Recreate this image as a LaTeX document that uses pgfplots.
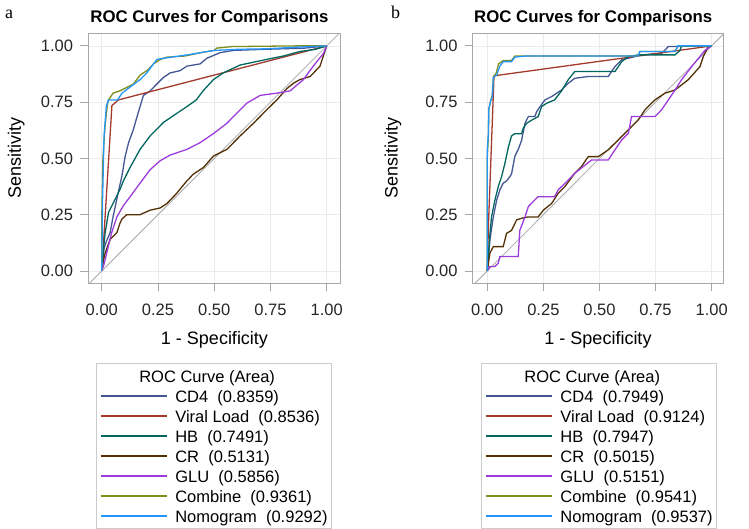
\documentclass[border=0pt]{standalone}
\usepackage{pgfplots}
\pgfplotsset{compat=1.18}
\usepackage{fontspec}
\setmainfont{Liberation Sans}
\newfontfamily\seriffont{Liberation Serif}
\definecolor{cCD}{HTML}{445694}
\definecolor{cVL}{HTML}{A23A2E}
\definecolor{cHB}{HTML}{01665E}
\definecolor{cCR}{HTML}{543005}
\definecolor{cGLU}{HTML}{9D3CDB}
\definecolor{cCOM}{HTML}{7F8E1F}
\definecolor{cNOM}{HTML}{2597FA}
\definecolor{frameg}{HTML}{A8A8A8}
\definecolor{gridg}{HTML}{EBEBEB}
\pgfplotsset{
  lg/.style={legend image code/.code={\draw[draw=#1, line width=1.3pt] (0pt,0pt) -- (66pt,0pt);}},
  rocax/.style={
    scale only axis, height=250pt,
    ymin=-0.055, ymax=1.056,
    xtick={0,0.25,0.5,0.75,1}, ytick={0,0.25,0.5,0.75,1},
    xticklabels={0.00,0.25,0.50,0.75,1.00},
    yticklabels={0.00,0.25,0.50,0.75,1.00},
    tick align=outside, xtick pos=bottom, ytick pos=left,
    major tick length=8pt,
    tick style={draw=frameg, line width=0.8pt},
    axis line style={draw=frameg, line width=1pt},
    grid=major, major grid style={draw=gridg, line width=0.6pt},
    ticklabel style={font=\fontsize{16.5}{18}\selectfont, text=black!85},
    xticklabel style={anchor=north, inner sep=0pt},
    yticklabel style={anchor=east, inner sep=0pt},
    xticklabel shift=12pt, yticklabel shift=7pt,
    title style={font=\bfseries\fontsize{16.8}{18}\selectfont, anchor=base},
    xlabel={1 - Specificity}, ylabel={Sensitivity},
    label style={font=\fontsize{18}{20}\selectfont},
    xlabel style={at={(axis description cs:0.5,-0.244)}, anchor=base},
    legend cell align=left,
    legend style={draw=black!20, line width=0.8pt, inner xsep=4pt, inner ysep=2.5pt,
      font=\fontsize{16.5}{18}\selectfont, row sep=0pt, column sep=8pt,
      nodes={inner sep=0pt, text height=17pt, text depth=3pt}},
    every axis plot/.append style={line width=1.3pt, forget plot},
  }
}
\begin{document}
\begin{tikzpicture}
\path[use as bounding box] (0,0) rectangle (749pt,529pt);
\node[anchor=base west, inner sep=0pt, font=\seriffont\fontsize{18}{20}\selectfont] at (5pt,510.7pt) {a};
\node[anchor=base west, inner sep=0pt, font=\seriffont\fontsize{18}{20}\selectfont] at (391pt,510.7pt) {b};
% ---------------- panel a
\begin{axis}[rocax, at={(88.3pt,245.7pt)}, anchor=south west, width=252.4pt,
  xmin=-0.06, xmax=1.062,
  title={ROC Curves for Comparisons}, title style={at={(axis description cs:0.48,1)}, yshift=5pt},
  ylabel style={at={(axis description cs:-0.267,0.5)}, anchor=base},
  legend style={at={(axis description cs:0.029,-0.319)}, anchor=north west}]
\addplot[draw=frameg, line width=0.8pt] coordinates {(-0.1,-0.1) (1.1,1.1)};
\addlegendimage{empty legend}\addlegendentry{\hspace*{-36pt}ROC Curve (Area)}
\addlegendimage{lg=cCD}\addlegendentry{CD4\ \ (0.8359)}
\addlegendimage{lg=cVL}\addlegendentry{Viral Load\ \ (0.8536)}
\addlegendimage{lg=cHB}\addlegendentry{HB\ \ (0.7491)}
\addlegendimage{lg=cCR}\addlegendentry{CR\ \ (0.5131)}
\addlegendimage{lg=cGLU}\addlegendentry{GLU\ \ (0.5856)}
\addlegendimage{lg=cCOM}\addlegendentry{Combine\ \ (0.9361)}
\addlegendimage{lg=cNOM}\addlegendentry{Nomogram\ \ (0.9292)}
\addplot[cCD] coordinates {(0,0)(0.005,0.06)(0.01,0.1)(0.02,0.13)(0.037,0.17)(0.05,0.24)(0.067,0.32)(0.08,0.38)(0.089,0.42)(0.104,0.51)(0.119,0.57)(0.141,0.63)(0.155,0.68)(0.170,0.73)(0.185,0.78)(0.215,0.80)(0.244,0.83)(0.274,0.86)(0.304,0.88)(0.348,0.89)(0.378,0.91)(0.437,0.92)(0.467,0.945)(0.526,0.97)(0.585,0.98)(0.73,0.985)(0.9,0.99)(1,1)};
\addplot[cVL] coordinates {(0,0)(0.045,0.735)(0.074,0.76)(1,1)};
\addplot[cHB] coordinates {(0,0)(0.008,0.1)(0.015,0.17)(0.03,0.26)(0.06,0.32)(0.08,0.36)(0.096,0.40)(0.126,0.46)(0.17,0.54)(0.215,0.60)(0.245,0.63)(0.274,0.66)(0.333,0.70)(0.378,0.73)(0.42,0.76)(0.45,0.80)(0.496,0.85)(0.54,0.88)(0.615,0.915)(0.733,0.94)(0.807,0.955)(0.88,0.975)(0.95,0.985)(1,1)};
\addplot[cCR] coordinates {(0,0)(0.008,0.05)(0.015,0.08)(0.037,0.14)(0.067,0.17)(0.08,0.21)(0.089,0.23)(0.111,0.25)(0.17,0.25)(0.215,0.27)(0.26,0.28)(0.29,0.30)(0.333,0.345)(0.378,0.40)(0.407,0.43)(0.452,0.46)(0.496,0.51)(0.556,0.54)(0.615,0.60)(0.674,0.656)(0.733,0.716)(0.778,0.76)(0.822,0.81)(0.852,0.834)(0.88,0.85)(0.926,0.864)(0.97,0.91)(0.993,0.98)(1,1)};
\addplot[cGLU] coordinates {(0,0)(0.01,0.03)(0.022,0.08)(0.044,0.17)(0.067,0.24)(0.096,0.29)(0.126,0.33)(0.17,0.39)(0.215,0.45)(0.26,0.49)(0.304,0.515)(0.378,0.54)(0.437,0.57)(0.496,0.61)(0.556,0.656)(0.585,0.686)(0.644,0.745)(0.704,0.78)(0.778,0.79)(0.837,0.80)(0.896,0.85)(0.94,0.91)(0.985,0.966)(1,1)};
\addplot[cCOM] coordinates {(0,0)(0,0.25)(0.005,0.5)(0.015,0.65)(0.025,0.74)(0.03,0.76)(0.05,0.79)(0.08,0.80)(0.10,0.81)(0.14,0.83)(0.17,0.87)(0.20,0.89)(0.23,0.92)(0.26,0.94)(0.29,0.95)(0.37,0.955)(0.44,0.97)(0.50,0.98)(0.51,0.99)(0.58,0.997)(0.86,1.0)(1,1)};
\addplot[cNOM] coordinates {(0,0)(0.003,0.3)(0.01,0.6)(0.02,0.73)(0.03,0.76)(0.07,0.76)(0.09,0.79)(0.13,0.82)(0.17,0.85)(0.2,0.88)(0.245,0.94)(0.275,0.945)(0.38,0.96)(0.50,0.98)(0.61,0.985)(0.73,0.987)(0.88,0.995)(1,1)};
\end{axis}
% ---------------- panel b
\begin{axis}[rocax, at={(472.7pt,245.7pt)}, anchor=south west, width=250.6pt,
  xmin=-0.065, xmax=1.052,
  title={ROC Curves for Comparisons}, title style={at={(axis description cs:0.481,1)}, yshift=5pt},
  ylabel style={at={(axis description cs:-0.30,0.5)}, anchor=base},
  legend style={at={(axis description cs:0.032,-0.319)}, anchor=north west}]
\addplot[draw=frameg, line width=0.8pt] coordinates {(-0.1,-0.1) (1.1,1.1)};
\addlegendimage{empty legend}\addlegendentry{\hspace*{-36pt}ROC Curve (Area)}
\addlegendimage{lg=cCD}\addlegendentry{CD4\ \ (0.7949)}
\addlegendimage{lg=cVL}\addlegendentry{Viral Load\ \ (0.9124)}
\addlegendimage{lg=cHB}\addlegendentry{HB\ \ (0.7947)}
\addlegendimage{lg=cCR}\addlegendentry{CR\ \ (0.5015)}
\addlegendimage{lg=cGLU}\addlegendentry{GLU\ \ (0.5151)}
\addlegendimage{lg=cCOM}\addlegendentry{Combine\ \ (0.9541)}
\addlegendimage{lg=cNOM}\addlegendentry{Nomogram\ \ (0.9537)}
\addplot[cCD] coordinates {(0,0)(0.012,0.14)(0.027,0.24)(0.042,0.315)(0.056,0.36)(0.071,0.39)(0.086,0.40)(0.101,0.42)(0.108,0.43)(0.123,0.51)(0.138,0.54)(0.153,0.58)(0.168,0.656)(0.183,0.686)(0.212,0.686)(0.22,0.708)(0.235,0.73)(0.257,0.76)(0.287,0.775)(0.331,0.804)(0.361,0.834)(0.39,0.856)(0.45,0.864)(0.539,0.864)(0.554,0.886)(0.569,0.908)(0.599,0.938)(0.688,0.96)(0.777,0.967)(0.807,0.997)(1,1)};
\addplot[cVL] coordinates {(0,0)(0.005,0.2)(0.03,0.867)(1,1)};
\addplot[cHB] coordinates {(0,0)(0.012,0.167)(0.019,0.24)(0.034,0.315)(0.049,0.375)(0.064,0.42)(0.079,0.48)(0.094,0.55)(0.108,0.60)(0.123,0.61)(0.153,0.61)(0.16,0.634)(0.175,0.656)(0.198,0.67)(0.227,0.686)(0.242,0.73)(0.264,0.745)(0.30,0.76)(0.331,0.80)(0.361,0.85)(0.39,0.886)(0.569,0.886)(0.599,0.93)(0.629,0.953)(0.673,0.96)(0.837,0.96)(0.859,0.98)(0.866,1.0)(1,1)};
\addplot[cCR] coordinates {(0,0)(0.005,0.035)(0.012,0.08)(0.027,0.108)(0.071,0.108)(0.086,0.167)(0.108,0.18)(0.131,0.227)(0.153,0.234)(0.183,0.24)(0.227,0.24)(0.25,0.27)(0.287,0.30)(0.316,0.345)(0.346,0.375)(0.39,0.434)(0.42,0.464)(0.45,0.508)(0.495,0.508)(0.539,0.538)(0.584,0.582)(0.629,0.627)(0.673,0.671)(0.703,0.716)(0.747,0.76)(0.792,0.79)(0.837,0.804)(0.896,0.85)(0.948,0.908)(0.963,0.953)(0.985,0.997)(1,1)};
\addplot[cGLU] coordinates {(0,0)(0.012,0.02)(0.034,0.02)(0.049,0.034)(0.056,0.064)(0.138,0.064)(0.145,0.18)(0.168,0.24)(0.183,0.286)(0.212,0.316)(0.227,0.33)(0.30,0.33)(0.316,0.36)(0.361,0.404)(0.39,0.434)(0.465,0.493)(0.539,0.493)(0.569,0.538)(0.599,0.582)(0.629,0.612)(0.643,0.686)(0.747,0.686)(0.777,0.716)(0.807,0.76)(0.837,0.804)(0.866,0.85)(0.911,0.908)(0.97,0.98)(1,1)};
\addplot[cCOM] coordinates {(0,0)(0,0.5)(0.005,0.6)(0.007,0.72)(0.016,0.76)(0.022,0.78)(0.027,0.86)(0.04,0.88)(0.05,0.92)(0.071,0.935)(0.108,0.935)(0.123,0.955)(0.673,0.955)(0.68,0.975)(0.837,0.975)(0.85,1.0)(1,1)};
\addplot[cNOM] coordinates {(0,0)(0,0.54)(0.005,0.61)(0.007,0.72)(0.016,0.76)(0.022,0.77)(0.027,0.86)(0.042,0.87)(0.056,0.91)(0.071,0.93)(0.108,0.93)(0.123,0.95)(0.175,0.955)(0.673,0.955)(0.68,0.975)(0.837,0.975)(0.85,1.0)(1,1)};
\end{axis}
\end{tikzpicture}
\end{document}
